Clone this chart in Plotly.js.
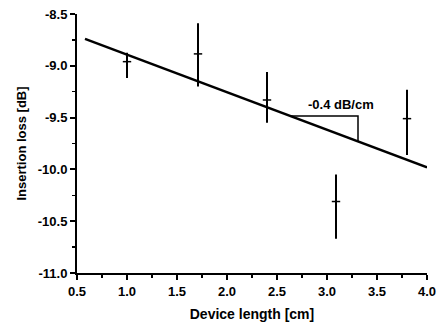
<!DOCTYPE html>
<html>
<head>
<meta charset="utf-8">
<script src="https://cdn.plot.ly/plotly-3.0.1.min.js"></script>
<style>html,body{margin:0;padding:0;background:#fff;}#chart{width:438px;height:327px;}</style>
</head>
<body>
<div id="chart"></div>
<script>
// Measured data
const deviceLength = [1.0, 1.71, 2.40, 3.09, 3.80];
const insertionLoss = [-8.96, -8.885, -9.33, -10.31, -9.51];
const errPlus = [0.085, 0.295, 0.27, 0.26, 0.28];
const errMinus = [0.158, 0.315, 0.22, 0.36, 0.35];

// Linear fit line
const fitX = [0.58, 4.0];
const fitY = [-8.74, -9.98];

// Slope triangle
const triX = [2.63, 3.31, 3.31];
const triY = [-9.485, -9.485, -9.73];
const slopeLabel = "-0.4 dB/cm";
const slopeLabelPos = [3.14, -9.37];

// Tick labels
const xTickVals = [0.5, 1.0, 1.5, 2.0, 2.5, 3.0, 3.5, 4.0];
const xTickText = ["0.5", "1.0", "1.5", "2.0", "2.5", "3.0", "3.5", "4.0"];
const yTickVals = [-11.0, -10.5, -10.0, -9.5, -9.0, -8.5];
const yTickText = ["-11.0", "-10.5", "-10.0", "-9.5", "-9.0", "-8.5"];

const FONT = "Liberation Sans, Arial, sans-serif";

const traces = [
  {
    x: fitX, y: fitY, mode: "lines", type: "scatter",
    line: {color: "#000", width: 2.5}, hoverinfo: "skip"
  },
  {
    x: triX, y: triY, mode: "lines", type: "scatter",
    line: {color: "#000", width: 1.5}, hoverinfo: "skip"
  },
  {
    x: deviceLength, y: insertionLoss, mode: "markers", type: "scatter",
    marker: {symbol: "line-ew", size: 6, color: "#000", line: {color: "#000", width: 1.5}},
    error_y: {type: "data", symmetric: false, array: errPlus, arrayminus: errMinus,
              color: "#000", thickness: 2, width: 0}
  }
];

const layout = {
  width: 438, height: 327,
  margin: {l: 77, r: 11, t: 14, b: 54},
  paper_bgcolor: "#fff", plot_bgcolor: "#fff",
  showlegend: false,
  font: {family: FONT, color: "#000"},
  xaxis: {
    range: [0.5, 4.0], showgrid: false, zeroline: false,
    showline: true, linecolor: "#000", linewidth: 2,
    tickmode: "array", tickvals: xTickVals, ticktext: xTickText,
    ticks: "outside", ticklen: 5, tickwidth: 2, tickcolor: "#000",
    tickfont: {family: FONT, size: 13, color: "#000", weight: "bold"},
    minor: {dtick: 0.25, tick0: 0.5, ticks: "outside", ticklen: 3, tickwidth: 1.5, tickcolor: "#000", showgrid: false},
    title: {text: "<b>Device length [cm]</b>", font: {family: FONT, size: 14, color: "#000"}, standoff: 12},
    automargin: false
  },
  yaxis: {
    range: [-11.0, -8.5], showgrid: false, zeroline: false,
    showline: true, linecolor: "#000", linewidth: 2,
    tickmode: "array", tickvals: yTickVals, ticktext: yTickText,
    ticks: "outside", ticklen: 5, tickwidth: 2, tickcolor: "#000",
    tickfont: {family: FONT, size: 13, color: "#000", weight: "bold"},
    minor: {dtick: 0.25, tick0: -11, ticks: "outside", ticklen: 3, tickwidth: 1.5, tickcolor: "#000", showgrid: false},
    title: {text: "<b>Insertion loss [dB]</b>", font: {family: FONT, size: 13, color: "#000"}, standoff: 8},
    automargin: false
  },
  annotations: [{
    x: slopeLabelPos[0], y: slopeLabelPos[1], xref: "x", yref: "y",
    text: "<b>" + slopeLabel + "</b>", showarrow: false,
    font: {family: FONT, size: 13, color: "#000"}
  }]
};

Plotly.newPlot("chart", traces, layout, {staticPlot: true, displayModeBar: false});
</script>
</body>
</html>
